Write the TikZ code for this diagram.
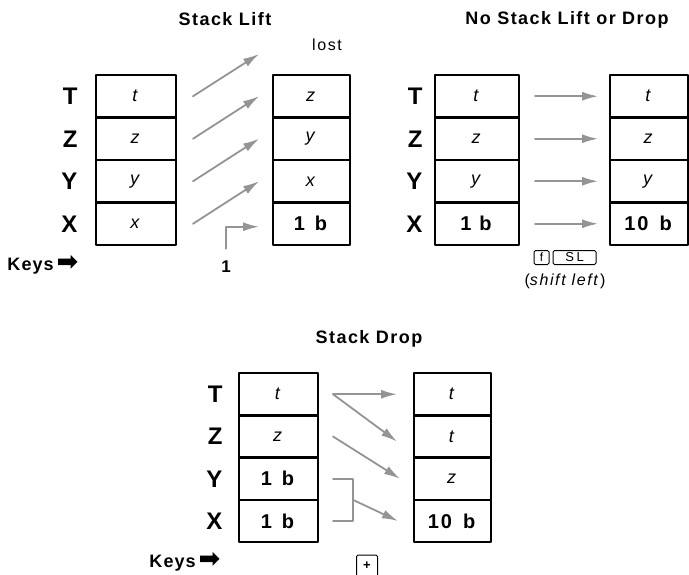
\documentclass[tikz,border=0pt]{standalone}
\usepackage{fontspec}
\setmainfont{Liberation Sans}[LetterSpace=10]
\newfontfamily\symfont{DejaVu Sans}
\usetikzlibrary{arrows.meta,positioning}
\definecolor{arrowgray}{gray}{0.58}
\tikzset{
  cell/.style={draw, line width=2.4pt, minimum height=42.5pt, outer sep=0pt, inner sep=0pt, font=\fontsize{18}{18}\selectfont},
  reg/.style={font=\fontsize{24}{24}\selectfont\bfseries},
  title/.style={font=\fontsize{18}{18}\selectfont\bfseries\addfontfeatures{LetterSpace=8}},
  move/.style={draw=arrowgray, line width=1.8pt, -{Latex[length=16pt,width=9pt]}},
  link/.style={draw=arrowgray, line width=1.8pt},
  keycap/.style={draw, rounded corners=1.5pt, line width=1pt, inner sep=0pt, font=\fontsize{12}{12}\selectfont},
  keystxt/.style={font=\fontsize{18}{18}\selectfont\bfseries\addfontfeatures{LetterSpace=6}},
}
\newcommand{\keyarrow}{{\symfont\fontsize{26}{26}\selectfont ➡}}
\newcommand{\numb}[1]{\textbf{\fontsize{20}{20}\selectfont #1}}
\begin{document}
\begin{tikzpicture}[x=1pt, y=-1pt, line join=round, line cap=round]
\useasboundingbox[fill=white] (0,0) rectangle (689,574);
% stack lift
\node[title] (lifttitle) at (225,19) {Stack Lift};
\foreach \rg/\vl [count=\i from 0] in {T/\textit{t}, Z/\textit{z}, Y/\textit{y}, X/\textit{x}}{
  \node[cell, minimum width=80pt] (la\rg) at (136,{96.25+42.5*\i}) {\vl};
  \node[reg, left=15pt of la\rg] (lareg\rg) {\rg};
}
\foreach \rg/\vl [count=\i from 0] in {T/\textit{z}, Z/\textit{y}, Y/\textit{x}, X/\numb{1\hspace{10pt}b}}
  \node[cell, minimum width=77pt] (lb\rg) at (311.5,{96.25+42.5*\i}) {\vl};
\node[font=\fontsize{16}{16}\selectfont] (lost) at (327,45) {lost};
\coordinate (lostend) at (259,54);
\draw[move] ([xshift=17pt]laT.east) -- (lostend);
\foreach \a/\b in {Z/T,Y/Z,X/Y}
  \draw[move] ([xshift=17pt]la\a.east) -- ([xshift=-14pt]lb\b.west);
\node[keystxt] (keysa) at (43,265) {Keys\,\keyarrow};
\node[font=\fontsize{17}{17}\selectfont\bfseries] (one) at (226,267) {1};
\draw[move] ([yshift=9pt]one.north) |- ([xshift=-14pt,yshift=-3pt]lbX.west);
% no stack lift or drop
\node[title] (nonetitle) at (567,20) {No Stack Lift or Drop};
\foreach \rg/\vl [count=\i from 0] in {T/\textit{t}, Z/\textit{z}, Y/\textit{y}, X/\numb{1\hspace{8pt}b}}{
  \node[cell, minimum width=84pt] (lc\rg) at (477,{96.25+42.5*\i}) {\vl};
  \node[reg, left=9pt of lc\rg] (lcreg\rg) {\rg};
}
\foreach \rg/\vl [count=\i from 0] in {T/\textit{t}, Z/\textit{z}, Y/\textit{y}, X/\numb{10\hspace{11pt}b}}
  \node[cell, minimum width=78pt] (ld\rg) at (649,{96.25+42.5*\i}) {\vl};
\foreach \a in {T,Z,Y,X}
  \draw[move] ([xshift=16pt]lc\a.east) -- ([xshift=-12pt]ld\a.west);
\node[keycap, minimum width=15pt, minimum height=14pt] (kf) at (541.5,257.5) {f};
\node[keycap, minimum width=43pt, minimum height=14pt, right=3pt of kf, font=\fontsize{13}{13}\selectfont\addfontfeatures{LetterSpace=20}] (ksl) {SL};
\node[font=\fontsize{16}{16}\selectfont] (shl) at (565,281) {(\textit{shift left})};
% stack drop
\node[title] (droptitle) at (369,339) {Stack Drop};
\foreach \rg/\vl [count=\i from 0] in {T/\textit{t}, Z/\textit{z}, Y/\numb{1\hspace{10pt}b}, X/\numb{1\hspace{10pt}b}}{
  \node[cell, minimum width=79pt] (ea\rg) at (278.5,{394.25+42.25*\i}) {\vl};
  \node[reg, left=13pt of ea\rg] (eareg\rg) {\rg};
}
\foreach \rg/\vl [count=\i from 0] in {T/\textit{t}, Z/\textit{t}, Y/\textit{z}, X/\numb{10\hspace{11pt}b}}
  \node[cell, minimum width=77pt] (eb\rg) at (452.5,{394.25+42.25*\i}) {\vl};
\draw[move] ([xshift=15pt]eaT.east) -- ([xshift=-17pt]ebT.west);
\draw[move] ([xshift=15pt]eaT.east) -- ([xshift=-17pt,yshift=-5pt]ebZ.west);
\draw[move] ([xshift=15pt]eaZ.east) -- ([xshift=-14pt]ebY.west);
\draw[link] ([xshift=15pt]eaY.east) -| coordinate[pos=0.75] (bmid) ([xshift=35pt]eaX.east) -- ([xshift=15pt]eaX.east);
\draw[move] (bmid) -- ([xshift=-16pt]ebX.west);
\node[keystxt] (keysb) at (185,562) {Keys\,\keyarrow};
\node[keycap, minimum width=21pt, minimum height=22pt, font=\fontsize{13}{13}\selectfont\bfseries] (kplus) at (367,566) {+};
\end{tikzpicture}
\end{document}
